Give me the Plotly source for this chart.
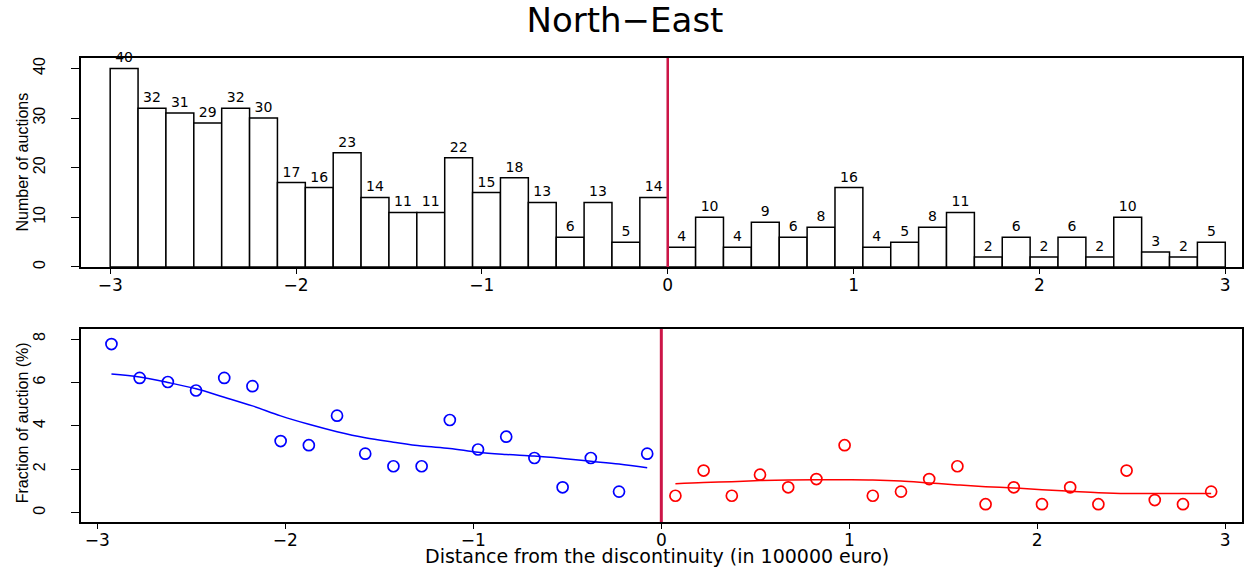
import numpy as np
import plotly.graph_objects as go

# Bin grid: 40 bins of width 0.15 over [-3, 3]
bin_width = 0.15
bin_mid = np.round(np.arange(-3 + bin_width / 2, 3, bin_width), 3)
mid_left = bin_mid[:20]
mid_right = bin_mid[20:]

# Number of auctions per bin
counts = [40, 32, 31, 29, 32, 30, 17, 16, 23, 14, 11, 11, 22, 15, 18, 13, 6, 13, 5, 14,
          4, 10, 4, 9, 6, 8, 16, 4, 5, 8, 11, 2, 6, 2, 6, 2, 10, 3, 2, 5]

# Fraction of auctions (%) per bin, left and right of the threshold
share_left = [7.77, 6.21, 6.02, 5.63, 6.21, 5.83, 3.30, 3.11, 4.47, 2.72,
              2.14, 2.14, 4.27, 2.91, 3.50, 2.52, 1.17, 2.52, 0.97, 2.72]
share_right = [0.78, 1.94, 0.78, 1.75, 1.17, 1.55, 3.11, 0.78, 0.97, 1.55,
               2.14, 0.39, 1.17, 0.39, 1.17, 0.39, 1.94, 0.58, 0.39, 0.97]

# Smoothed fits on each side
fit_left = [6.39, 6.25, 6.00, 5.71, 5.32, 4.92, 4.46, 4.07, 3.73, 3.45,
            3.25, 3.07, 2.96, 2.78, 2.68, 2.61, 2.50, 2.37, 2.24, 2.07]
fit_right = [1.33, 1.39, 1.43, 1.48, 1.51, 1.52, 1.52, 1.51, 1.46, 1.37,
             1.28, 1.20, 1.14, 1.06, 0.99, 0.92, 0.88, 0.88, 0.88, 0.88]

x_ticks = [-3, -2, -1, 0, 1, 2, 3]
count_ticks = [0, 10, 20, 30, 40]
share_ticks = [0, 2, 4, 6, 8]

WIDE = "DejaVu Sans"
PLAIN = "Liberation Sans, Arial, sans-serif"
CUTOFF = "#CC1547"

fig = go.Figure()

fig.add_trace(go.Bar(
    x=bin_mid, y=counts, width=bin_width,
    marker=dict(color="white", line=dict(color="black", width=1.5)),
    text=[str(c) for c in counts], textposition="outside",
    textfont=dict(family=WIDE, size=14, color="black"),
    cliponaxis=False, constraintext="none",
    xaxis="x", yaxis="y", showlegend=False,
))

fig.add_trace(go.Scatter(
    x=mid_left, y=share_left, mode="markers",
    marker=dict(symbol="circle-open", size=11, color="#0000FF", line=dict(width=1.7)),
    xaxis="x2", yaxis="y2", showlegend=False,
))
fig.add_trace(go.Scatter(
    x=mid_left, y=fit_left, mode="lines", line=dict(color="#0000FF", width=1.5, shape="spline"),
    xaxis="x2", yaxis="y2", showlegend=False,
))
fig.add_trace(go.Scatter(
    x=mid_right, y=share_right, mode="markers",
    marker=dict(symbol="circle-open", size=11, color="#FF0000", line=dict(width=1.7)),
    xaxis="x2", yaxis="y2", showlegend=False,
))
fig.add_trace(go.Scatter(
    x=mid_right, y=fit_right, mode="lines", line=dict(color="#FF0000", width=1.5, shape="spline"),
    xaxis="x2", yaxis="y2", showlegend=False,
))

# Threshold lines
fig.add_shape(type="line", xref="x", yref="y domain", x0=0, x1=0, y0=0, y1=1,
              line=dict(color=CUTOFF, width=2.5))
fig.add_shape(type="line", xref="x2", yref="y2 domain", x0=0, x1=0, y0=0, y1=1,
              line=dict(color=CUTOFF, width=3))

axis_common = dict(showline=True, mirror=True, linecolor="black", linewidth=1.5,
                   showgrid=False, zeroline=False, ticks="outside", tickcolor="black",
                   tickwidth=1)

fig.update_layout(
    width=1245, height=567,
    margin=dict(l=81, r=1, t=58, b=45),
    paper_bgcolor="white", plot_bgcolor="white",
    title=dict(text="North\u2212East", x=0.502, xanchor="center", y=1 - 20 / 567,
               yanchor="middle", font=dict(family=WIDE, size=34, color="black")),
    xaxis=dict(domain=[0, 1], anchor="y", range=[-3.157, 3.09], tickvals=x_ticks,
               ticklen=5, ticklabelstandoff=-3,
               tickfont=dict(family=WIDE, size=17, color="black"), **axis_common),
    yaxis=dict(domain=[0.5496, 1], anchor="x", range=[0, 42.1], tickvals=count_ticks,
               tickangle=-90, ticklen=8, ticklabelstandoff=20,
               tickfont=dict(family=PLAIN, size=16, color="black"), **axis_common),
    xaxis2=dict(domain=[0, 1], anchor="y2", range=[-3.087, 3.089], tickvals=x_ticks,
                ticklen=5, ticklabelstandoff=-3,
                tickfont=dict(family=WIDE, size=17, color="black"), **axis_common),
    yaxis2=dict(domain=[0, 0.4158], anchor="x2", range=[-0.43, 8.46], tickvals=share_ticks,
                tickangle=-90, ticklen=8, ticklabelstandoff=20,
                tickfont=dict(family=PLAIN, size=16, color="black"), **axis_common),
    annotations=[
        dict(text="Number of auctions", xref="paper", yref="paper", x=-0.0507, y=0.775,
             xanchor="center", yanchor="middle", textangle=-90, showarrow=False,
             font=dict(family=PLAIN, size=16, color="black")),
        dict(text="Fraction of auction (%)", xref="paper", yref="paper", x=-0.0507, y=0.213,
             xanchor="center", yanchor="middle", textangle=-90, showarrow=False,
             font=dict(family=PLAIN, size=16, color="black")),
        dict(text="Distance from the discontinuity (in 100000 euro)", xref="paper", yref="paper",
             x=0.496, y=-0.0722, xanchor="center", yanchor="middle", showarrow=False,
             font=dict(family=WIDE, size=19, color="black")),
    ],
)

fig.write_html("out.html")
